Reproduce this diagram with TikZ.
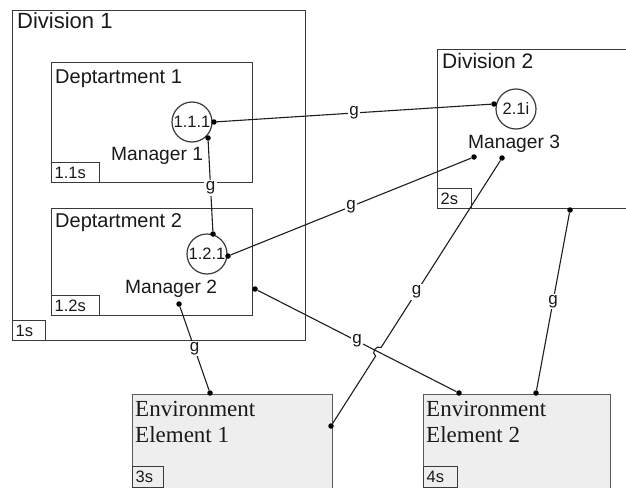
\documentclass[tikz,border=0pt]{standalone}
\usepackage{fontspec}
\setmainfont{Liberation Sans}
\newfontfamily\envserif{Liberation Serif}
\usetikzlibrary{calc}
\definecolor{boxc}{HTML}{3A3A3A}
\definecolor{envc}{HTML}{5A5A5A}
\definecolor{envfill}{HTML}{EEEEEE}
\definecolor{linec}{HTML}{1E1E1E}
\definecolor{txtc}{HTML}{1A1A1A}
\newcommand{\fsz}[1]{\fontsize{#1}{#1}\selectfont}
\begin{document}
\begin{tikzpicture}[x=1pt,y=-1pt,
  area/.style={draw=boxc,line width=1.2pt,inner sep=0,anchor=north west},
  envbox/.style={draw=envc,fill=envfill,line width=1.2pt,inner sep=0,anchor=north west},
  ttl/.style={anchor=base west,inner sep=0,text=txtc},
  tagbox/.style={draw=boxc,line width=1.2pt,anchor=south west,inner xsep=3pt,inner ysep=0,
     minimum height=20pt,text=txtc,font=\fsz{16.5},align=left},
  circ/.style={circle,draw=boxc,line width=1.2pt,fill=white,minimum size=40pt,inner sep=0},
  circtxt/.style={inner sep=0,text=txtc,font=\fsz{16.5}},
  dot/.style={circle,fill=black,inner sep=0,minimum size=5.5pt},
  conn/.style={draw=linec,line width=1.1pt},
  lbl/.style={fill=white,inner sep=1.5pt,text=txtc,font=\fsz{17}},
  mgr/.style={anchor=base west,inner sep=0,text=txtc,font=\fsz{19.2}},
  envtxt/.style={anchor=base west,inner sep=0,text=txtc,font=\envserif\fsz{23}}
]
\useasboundingbox (0,0) rectangle (626,487);
\clip (0,0) rectangle (626,487);
\fill[white] (0,0) rectangle (626,487);

% Division 1
\node[area,minimum width=293pt,minimum height=330pt] (div1) at (12,10) {};
\node[ttl,font=\fsz{22}] (div1t) at (17,29) {Division 1};
\node[tagbox,text width=27pt] (div1s) at (div1.south west) {1s};

% Department 1
\node[area,minimum width=201pt,minimum height=120pt] (dep1) at (51,62) {};
\node[ttl,font=\fsz{20}] (dep1t) at (55,83) {Deptartment 1};
\node[tagbox,text width=42pt] (dep1s) at (dep1.south west) {1.1s};
\node[circ] (c111) at (192,122) {};
\node[circtxt] (c111t) at (c111.center) {1.1.1};
\node[mgr] (m1) at (111,160) {Manager 1};

% Department 2
\node[area,minimum width=201pt,minimum height=107pt] (dep2) at (51,208) {};
\node[ttl,font=\fsz{20}] (dep2t) at (55,227) {Deptartment 2};
\node[tagbox,text width=42pt] (dep2s) at (dep2.south west) {1.2s};
\node[circ] (c121) at (207,254) {};
\node[circtxt] (c121t) at (c121.center) {1.2.1};
\node[mgr] (m2) at (125,293) {Manager 2};

% Division 2
\node[area,minimum width=210pt,minimum height=159pt] (div2) at (437,49) {};
\node[ttl,font=\fsz{21}] (div2t) at (442,69) {Division 2};
\node[tagbox,text width=28pt] (div2s) at (div2.south west) {2s};
\node[circ] (c21) at (516,109) {};
\node[circtxt] (c21t) at (c21.center) {2.1i};
\node[mgr] (m3) at (468,148) {Manager 3};

% Environment elements
\node[envbox,minimum width=200pt,minimum height=100pt] (env1) at (132,394) {};
\node[envtxt] (env1t) at (135,416) {Environment};
\node[envtxt] (env1u) at (135,442) {Element 1};
\node[tagbox,anchor=north west,text width=25pt,minimum height=21pt] (env1s) at ($(env1.north west)+(0,72)$) {3s};

\node[envbox,minimum width=187pt,minimum height=100pt] (env2) at (423,394) {};
\node[envtxt] (env2t) at (426,416) {Environment};
\node[envtxt] (env2u) at (426,442) {Element 2};
\node[tagbox,anchor=north west,text width=28pt,minimum height=21pt] (env2s) at ($(env2.north west)+(0,72)$) {4s};

% connector end points
\node[dot] (d1a) at (214,122) {};
\node[dot] (d1b) at (494,104) {};
\node[dot] (d2a) at (208,138) {};
\node[dot] (d2b) at (213,234) {};
\node[dot] (d3a) at (228,256) {};
\node[dot] (d3b) at (474,157) {};
\node[dot] (d4a) at (179,304) {};
\node[dot] (d4b) at (210,393) {};
\node[dot] (d5a) at (255,289) {};
\node[dot] (d5b) at (459,393) {};
\node[dot] (d6a) at (502,158) {};
\node[dot] (d6b) at (331,426) {};
\node[dot] (d7a) at (570,210) {};
\node[dot] (d7b) at (536,393) {};

% connectors
\draw[conn] (d1a) -- node[lbl] (g1) {g} (d1b);
\draw[conn] (d2a) -- node[lbl,pos=0.52] (g2) {g} (d2b);
\draw[conn] (d3a) -- node[lbl] (g3) {g} (d3b);
\draw[conn] (d4a) -- node[lbl] (g4) {g} (d4b);
\coordinate (h1) at ($(d6a)!0.707!(d6b)$);
\coordinate (h2) at ($(d6a)!0.739!(d6b)$);
\draw[conn] (d6a) -- (h1) .. controls ($(h1)+(-5,-3)$) and ($(h2)+(-5,-3)$) .. (h2) -- (d6b);
\draw[conn] (d5a) -- node[lbl] (g5) {g} (d5b);
\path (d6a) -- node[lbl] (g6) {g} (d6b);
\draw[conn] (d7a) -- node[lbl] (g7) {g} (d7b);
\end{tikzpicture}
\end{document}
